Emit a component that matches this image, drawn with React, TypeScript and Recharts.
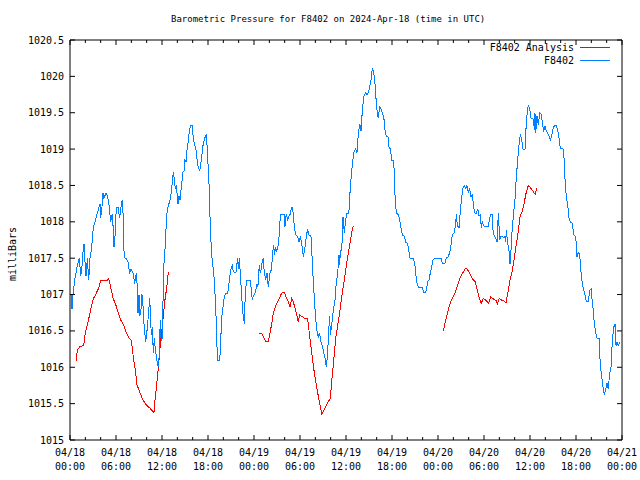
import React from "react";
import { LineChart, Line, XAxis, YAxis } from "recharts";

// hours since 2024-04-18 00:00 UTC, pressure in hPa
const stationSeries: [number, number][] = [
  [0.2, 1017.0], [0.26, 1016.8], [0.39, 1017.0], [0.61, 1017.2], [0.78, 1017.3], [0.95, 1017.4],
  [1.21, 1017.5], [1.4, 1017.25], [1.57, 1017.4], [1.74, 1017.65], [1.83, 1017.7], [1.96, 1017.45],
  [2.09, 1017.25], [2.26, 1017.5], [2.44, 1017.2], [2.61, 1017.5], [2.83, 1017.65], [3.04, 1017.93],
  [3.13, 1017.95], [3.39, 1018.05], [3.65, 1018.15], [3.91, 1018.25], [4.0, 1018.05], [4.17, 1018.2],
  [4.3, 1018.4], [4.43, 1018.32], [4.7, 1018.4], [4.89, 1018.35], [5.09, 1018.23], [5.31, 1018.0],
  [5.48, 1018.1], [5.61, 1017.95], [5.74, 1017.65], [5.87, 1017.8], [6.04, 1018.2], [6.26, 1018.2],
  [6.48, 1018.05], [6.65, 1018.2], [6.82, 1018.3], [6.95, 1018.05], [7.04, 1017.6], [7.17, 1017.5],
  [7.34, 1017.5], [7.57, 1017.45], [7.76, 1017.3], [7.96, 1017.35], [8.22, 1017.3], [8.44, 1017.15],
  [8.54, 1017.25], [8.7, 1017.3], [8.87, 1016.75], [9.0, 1017.0], [9.09, 1016.7], [9.26, 1016.8],
  [9.39, 1017.0], [9.52, 1016.85], [9.65, 1016.6], [9.87, 1016.35], [10.04, 1016.5], [10.17, 1016.65],
  [10.4, 1016.95], [10.5, 1016.7], [10.6, 1016.45], [10.73, 1016.55], [10.87, 1016.2], [11.0, 1016.4],
  [11.13, 1016.25], [11.26, 1016.15], [11.39, 1016.05], [11.57, 1016.0], [11.67, 1016.3], [11.78, 1016.65],
  [11.87, 1016.4], [12.0, 1016.37], [12.13, 1016.9], [12.26, 1017.43], [12.43, 1017.68], [12.61, 1018.1],
  [12.78, 1018.2], [13.04, 1018.3], [13.21, 1018.4], [13.34, 1018.55], [13.47, 1018.68], [13.6, 1018.6],
  [13.73, 1018.45], [13.87, 1018.5], [14.0, 1018.35], [14.09, 1018.25], [14.22, 1018.35], [14.35, 1018.3],
  [14.52, 1018.48], [14.74, 1018.68], [14.87, 1018.7], [14.96, 1018.85], [15.13, 1018.82], [15.22, 1018.95],
  [15.39, 1019.08], [15.52, 1019.2], [15.69, 1019.32], [15.95, 1019.32], [16.04, 1019.2], [16.17, 1019.1],
  [16.4, 1019.0], [16.5, 1018.95], [16.61, 1018.8], [16.92, 1018.7], [17.13, 1018.85], [17.35, 1019.05],
  [17.57, 1019.15], [17.78, 1019.2], [17.91, 1019.0], [18.0, 1018.8], [18.13, 1018.53], [18.22, 1018.2],
  [18.35, 1017.82], [18.48, 1017.54], [18.65, 1017.38], [18.82, 1017.2], [19.0, 1016.85], [19.08, 1016.6],
  [19.17, 1016.28], [19.27, 1016.1], [19.53, 1016.1], [19.6, 1016.24], [19.79, 1016.68], [19.96, 1016.83],
  [20.13, 1016.97], [20.31, 1017.02], [20.57, 1017.02], [20.74, 1017.16], [20.91, 1017.3], [21.07, 1017.38],
  [21.17, 1017.4], [21.3, 1017.32], [21.43, 1017.31], [21.65, 1017.31], [21.87, 1017.5], [21.98, 1017.35],
  [22.08, 1017.5], [22.21, 1017.3], [22.4, 1016.97], [22.5, 1016.8], [22.6, 1016.7], [22.74, 1016.6],
  [22.87, 1017.04], [23.05, 1017.2], [23.48, 1017.2], [23.61, 1017.1], [23.78, 1016.93], [23.91, 1016.98],
  [24.04, 1017.0], [24.22, 1017.05], [24.39, 1017.15], [24.5, 1017.1], [24.69, 1017.4], [24.82, 1017.3],
  [24.95, 1017.35], [25.08, 1017.47], [25.21, 1017.5], [25.34, 1017.3], [25.53, 1017.2], [25.7, 1017.3],
  [25.87, 1017.1], [26.09, 1017.3], [26.31, 1017.35], [26.39, 1017.54], [26.57, 1017.68], [26.67, 1017.55],
  [26.8, 1017.65], [26.96, 1017.6], [27.17, 1017.68], [27.35, 1017.9], [27.43, 1018.1], [27.95, 1018.1],
  [28.04, 1017.93], [28.11, 1018.05], [28.21, 1018.1], [28.4, 1018.03], [28.57, 1018.08], [28.7, 1018.1],
  [28.83, 1018.16], [28.96, 1018.2], [29.13, 1018.12], [29.26, 1017.93], [29.44, 1017.82], [29.7, 1017.8],
  [29.87, 1017.72], [30.04, 1017.8], [30.22, 1017.7], [30.43, 1017.52], [30.59, 1017.6], [30.82, 1017.8],
  [31.0, 1017.9], [31.17, 1017.82], [31.43, 1017.8], [31.6, 1017.47], [31.7, 1017.25], [31.87, 1016.95],
  [32.05, 1016.65], [32.22, 1016.5], [32.39, 1016.4], [32.5, 1016.47], [32.57, 1016.45], [32.74, 1016.35],
  [32.91, 1016.3], [33.09, 1016.2], [33.26, 1016.13], [33.43, 1016.0], [33.61, 1016.2], [33.74, 1016.5],
  [33.87, 1016.7], [33.95, 1016.45], [34.13, 1016.58], [34.34, 1016.78], [34.57, 1016.93], [34.73, 1017.16],
  [34.92, 1017.3], [35.09, 1017.55], [35.18, 1017.4], [35.26, 1017.6], [35.44, 1017.6], [35.61, 1018.07],
  [35.78, 1017.85], [35.96, 1018.03], [36.13, 1018.12], [36.33, 1018.12], [36.48, 1018.23], [36.52, 1018.4],
  [36.65, 1018.58], [36.82, 1018.78], [37.0, 1018.95], [37.27, 1019.0], [37.43, 1018.95], [37.6, 1019.2],
  [37.79, 1019.35], [37.96, 1019.25], [38.13, 1019.53], [38.31, 1019.72], [38.57, 1019.78], [38.74, 1019.75],
  [38.91, 1019.78], [39.09, 1019.85], [39.26, 1019.95], [39.43, 1020.1], [39.61, 1020.06], [39.78, 1019.9],
  [39.91, 1019.7], [40.08, 1019.5], [40.21, 1019.43], [40.4, 1019.58], [40.57, 1019.55], [40.73, 1019.5],
  [40.92, 1019.45], [41.09, 1019.26], [41.26, 1019.18], [41.48, 1019.17], [41.61, 1019.03], [41.8, 1019.0],
  [41.96, 1018.85], [42.2, 1018.85], [42.3, 1018.67], [42.39, 1018.37], [42.56, 1018.12], [42.82, 1018.1],
  [43.0, 1018.03], [43.17, 1017.92], [43.34, 1017.82], [43.6, 1017.8], [43.79, 1017.72], [44.05, 1017.7],
  [44.22, 1017.58], [44.35, 1017.5], [44.78, 1017.5], [45.0, 1017.4], [45.09, 1017.3], [45.22, 1017.18],
  [45.43, 1017.1], [45.95, 1017.1], [46.13, 1017.03], [46.3, 1017.02], [46.47, 1017.05], [46.66, 1017.18],
  [46.83, 1017.2], [47.0, 1017.3], [47.18, 1017.38], [47.35, 1017.47], [47.52, 1017.5], [48.39, 1017.5],
  [48.56, 1017.43], [48.74, 1017.42], [48.91, 1017.43], [49.08, 1017.5], [49.34, 1017.52], [49.53, 1017.58],
  [49.7, 1017.68], [49.87, 1017.82], [50.13, 1017.85], [50.31, 1017.98], [50.39, 1018.1], [50.52, 1017.95],
  [50.74, 1017.92], [50.91, 1018.15], [51.09, 1018.34], [51.26, 1018.46], [51.43, 1018.5], [51.61, 1018.46],
  [51.78, 1018.5], [51.95, 1018.4], [52.13, 1018.46], [52.3, 1018.34], [52.47, 1018.37], [52.66, 1018.2],
  [52.83, 1018.12], [53.0, 1018.12], [53.18, 1018.18], [53.35, 1018.08], [53.52, 1018.1], [53.65, 1017.92],
  [53.78, 1018.0], [53.96, 1017.95], [54.13, 1017.93], [54.56, 1017.93], [54.74, 1018.05], [54.91, 1018.1],
  [55.08, 1018.1], [55.17, 1017.89], [55.34, 1017.8], [55.53, 1017.78], [55.7, 1017.72], [55.87, 1018.12],
  [56.05, 1017.75], [56.22, 1017.8], [56.39, 1017.8], [56.57, 1017.78], [56.74, 1017.8], [56.83, 1017.72],
  [56.91, 1017.88], [57.09, 1017.7], [57.26, 1017.6], [57.39, 1017.42], [57.52, 1017.6], [57.69, 1017.92],
  [57.87, 1018.13], [58.04, 1018.3], [58.21, 1018.6], [58.34, 1018.78], [58.47, 1018.95], [58.61, 1019.1],
  [58.74, 1019.2], [58.92, 1019.12], [59.09, 1019.0], [59.35, 1019.0], [59.52, 1019.37], [59.7, 1019.56],
  [59.78, 1019.6], [59.96, 1019.56], [60.13, 1019.43], [60.3, 1019.42], [60.48, 1019.4], [60.56, 1019.26],
  [60.65, 1019.5], [60.74, 1019.22], [60.91, 1019.45], [61.08, 1019.33], [61.27, 1019.5], [61.43, 1019.48],
  [61.6, 1019.38], [61.79, 1019.24], [61.96, 1019.32], [62.13, 1019.25], [62.31, 1019.22], [62.48, 1019.18],
  [62.65, 1019.12], [62.83, 1019.18], [63.0, 1019.28], [63.17, 1019.32], [63.43, 1019.32], [63.61, 1019.27],
  [63.78, 1019.16], [63.95, 1019.01], [64.3, 1019.01], [64.47, 1018.85], [64.57, 1018.58], [64.74, 1018.34],
  [64.92, 1018.23], [65.09, 1018.05], [65.26, 1018.0], [65.52, 1017.98], [65.7, 1017.82], [65.96, 1017.8],
  [66.13, 1017.52], [66.3, 1017.58], [66.48, 1017.55], [66.65, 1017.31], [66.82, 1017.16], [67.0, 1017.06],
  [67.17, 1017.0], [67.34, 1016.9], [67.6, 1016.9], [67.79, 1017.06], [67.96, 1017.08], [68.05, 1016.97],
  [68.22, 1016.82], [68.39, 1016.6], [68.57, 1016.47], [68.74, 1016.4], [69.0, 1016.4], [69.17, 1016.03],
  [69.35, 1015.87], [69.52, 1015.73], [69.7, 1015.62], [69.87, 1015.7], [70.04, 1015.78], [70.21, 1015.7],
  [70.39, 1015.92], [70.57, 1016.0], [70.74, 1016.37], [70.92, 1016.55], [71.09, 1016.6], [71.22, 1016.3],
  [71.35, 1016.35], [71.52, 1016.3], [71.74, 1016.35],
];

// null entries break the line where the analysis has gaps
const analysisSeries: [number, number | null][] = [
  [0.82, 1016.08], [0.95, 1016.24], [1.26, 1016.28], [1.79, 1016.3], [2.0, 1016.48], [2.35, 1016.62],
  [2.7, 1016.79], [3.0, 1016.93], [3.43, 1017.02], [3.74, 1017.09], [4.0, 1017.19], [4.43, 1017.2],
  [4.87, 1017.2], [5.05, 1017.22], [5.31, 1017.1], [5.61, 1016.95], [5.91, 1016.88], [6.26, 1016.76],
  [6.61, 1016.65], [6.91, 1016.6], [7.34, 1016.48], [7.7, 1016.4], [8.0, 1016.37], [8.26, 1016.14],
  [8.52, 1015.96], [8.74, 1015.76], [9.09, 1015.66], [9.52, 1015.55], [9.96, 1015.48], [10.4, 1015.44],
  [10.83, 1015.39], [10.96, 1015.38], [11.13, 1015.6], [11.31, 1015.76], [11.52, 1016.0], [11.74, 1016.26],
  [11.96, 1016.49], [12.17, 1016.7], [12.39, 1016.93], [12.61, 1017.09], [12.82, 1017.3], [12.96, 1017.31],
  [18.0, null],
  [24.65, 1016.47], [25.0, 1016.47], [25.34, 1016.4], [25.53, 1016.35], [25.87, 1016.35], [26.09, 1016.47],
  [26.31, 1016.6], [26.52, 1016.74], [26.74, 1016.81], [26.96, 1016.88], [27.26, 1016.94], [27.52, 1017.0],
  [27.74, 1017.03], [27.95, 1017.03], [28.17, 1016.97], [28.47, 1016.9], [28.7, 1016.83], [28.92, 1016.95],
  [29.13, 1016.9], [29.35, 1016.81], [29.57, 1016.72], [29.78, 1016.62], [29.96, 1016.72], [30.22, 1016.7],
  [30.65, 1016.67], [31.0, 1016.67], [31.17, 1016.51], [31.43, 1016.28], [31.6, 1016.14], [31.87, 1015.92],
  [32.18, 1015.73], [32.39, 1015.6], [32.65, 1015.46], [32.83, 1015.36], [33.04, 1015.39], [33.35, 1015.46],
  [33.69, 1015.53], [33.95, 1015.57], [34.13, 1015.8], [34.4, 1016.1], [34.66, 1016.4], [34.92, 1016.58],
  [35.18, 1016.76], [35.44, 1016.97], [35.78, 1017.2], [36.09, 1017.43], [36.3, 1017.57], [36.48, 1017.68],
  [36.74, 1017.85], [36.95, 1017.94],
  [42.0, null],
  [48.69, 1016.5], [49.0, 1016.65], [49.34, 1016.79], [49.66, 1016.9], [50.0, 1016.97], [50.35, 1017.06],
  [50.65, 1017.16], [50.96, 1017.25], [51.3, 1017.31], [51.56, 1017.36], [51.82, 1017.35], [52.17, 1017.28],
  [52.53, 1017.21], [52.83, 1017.18], [53.13, 1017.06], [53.39, 1016.95], [53.65, 1016.88], [53.91, 1016.95],
  [54.26, 1016.92], [54.61, 1016.88], [54.87, 1016.97], [55.21, 1016.94], [55.57, 1016.92], [55.74, 1016.87],
  [56.0, 1016.95], [56.31, 1016.92], [56.61, 1016.91], [56.87, 1016.88], [57.13, 1017.04], [57.39, 1017.2],
  [57.65, 1017.31], [57.91, 1017.47], [58.17, 1017.66], [58.43, 1017.84], [58.7, 1018.07], [58.96, 1018.14],
  [59.22, 1018.25], [59.48, 1018.39], [59.78, 1018.5], [60.0, 1018.48], [60.26, 1018.44], [60.52, 1018.4],
  [60.69, 1018.38], [60.87, 1018.46],
];

const hourTicks = Array.from({ length: 37 }, (_, i) => i * 2);
const pressureTicks = [1015, 1015.5, 1016, 1016.5, 1017, 1017.5, 1018, 1018.5, 1019, 1019.5, 1020, 1020.5];
const startUtc = Date.UTC(2024, 3, 18);

const series = [
  { name: "F8402 Analysis", color: "#ff0000" },
  { name: "F8402", color: "#0080ff" },
];

const stationData = stationSeries.map(([t, p]) => ({ t, p }));
const analysisData = analysisSeries.map(([t, p]) => ({ t, p }));

const pad = (n: number) => String(n).padStart(2, "0");
const dateLabel = (h: number) => {
  const d = new Date(startUtc + h * 3600000);
  return [`${pad(d.getUTCMonth() + 1)}/${pad(d.getUTCDate())}`, `${pad(d.getUTCHours())}:${pad(d.getUTCMinutes())}`];
};

const FONT = "'DejaVu Sans Mono', monospace";

const BottomTick = ({ x, y, payload }: any) => {
  const major = payload.value % 6 === 0;
  const [day, time] = dateLabel(payload.value);
  return (
    <g>
      <line x1={x} x2={x} y1={y} y2={y - (major ? 5 : 3)} stroke="#000" />
      {major && (
        <text x={x} y={y} textAnchor="middle" fontSize={10} fontFamily={FONT} fill="#000">
          <tspan x={x} dy={16}>{day}</tspan>
          <tspan x={x} dy={14}>{time}</tspan>
        </text>
      )}
    </g>
  );
};

const TopTick = ({ x, y, payload }: any) => {
  const major = payload.value % 6 === 0;
  return <line x1={x} x2={x} y1={y} y2={y + (major ? 5 : 3)} stroke="#000" />;
};

const LeftTick = ({ x, y, payload }: any) => (
  <g>
    <line x1={x} x2={x + 5} y1={y} y2={y} stroke="#000" />
    <text x={x - 6} y={y} dy={3.5} textAnchor="end" fontSize={10} fontFamily={FONT} fill="#000">
      {payload.value}
    </text>
  </g>
);

const RightTick = ({ x, y }: any) => <line x1={x} x2={x - 5} y1={y} y2={y} stroke="#000" />;

export default function App() {
  return (
    <div style={{ position: "absolute", left: 0, top: 0, width: 640, height: 480, background: "#fff", fontFamily: FONT }}>
      <div style={{ position: "absolute", top: 14, left: 171, whiteSpace: "nowrap", fontSize: 9, color: "#000" }}>
        Barometric Pressure for F8402 on 2024-Apr-18 (time in UTC)
      </div>
      <div
        style={{
          position: "absolute",
          left: 12,
          top: 254,
          transform: "translate(-50%, -50%) rotate(-90deg)",
          fontSize: 10,
          color: "#000",
          whiteSpace: "nowrap",
        }}
      >
        milliBars
      </div>
      <div style={{ position: "absolute", top: 41, left: 430, width: 180, fontSize: 10, lineHeight: "13px", color: "#000", zIndex: 2 }}>
        {series.map((s) => (
          <div key={s.name} style={{ display: "flex", justifyContent: "flex-end", alignItems: "center" }}>
            <span>{s.name}</span>
            <span style={{ display: "inline-block", width: 30, borderTop: `1px solid ${s.color}`, marginLeft: 6 }} />
          </div>
        ))}
      </div>
      <LineChart width={640} height={480} margin={{ top: 39, right: 17, bottom: 0, left: 0 }}>
        <XAxis
          xAxisId="bottom"
          dataKey="t"
          type="number"
          domain={[0, 72]}
          ticks={hourTicks}
          interval={0}
          height={40}
          tickSize={0}
          tickMargin={0}
          tickLine={false}
          axisLine={{ stroke: "#000" }}
          tick={<BottomTick />}
          allowDataOverflow
        />
        <XAxis
          xAxisId="top"
          orientation="top"
          dataKey="t"
          type="number"
          domain={[0, 72]}
          ticks={hourTicks}
          interval={0}
          height={1}
          tickSize={0}
          tickMargin={0}
          tickLine={false}
          axisLine={{ stroke: "#000" }}
          tick={<TopTick />}
          allowDataOverflow
        />
        <YAxis
          yAxisId="left"
          type="number"
          domain={[1015, 1020.5]}
          ticks={pressureTicks}
          interval={0}
          width={70}
          tickSize={0}
          tickMargin={0}
          tickLine={false}
          axisLine={{ stroke: "#000" }}
          tick={<LeftTick />}
          allowDataOverflow
        />
        <YAxis
          yAxisId="right"
          orientation="right"
          type="number"
          domain={[1015, 1020.5]}
          ticks={pressureTicks}
          interval={0}
          width={1}
          tickSize={0}
          tickMargin={0}
          tickLine={false}
          axisLine={{ stroke: "#000" }}
          tick={<RightTick />}
          allowDataOverflow
        />
        {/* invisible copy so the mirrored top/right axes have a series bound to them */}
        <Line
          data={stationData}
          xAxisId="top"
          yAxisId="right"
          dataKey="p"
          stroke="none"
          dot={false}
          legendType="none"
          isAnimationActive={false}
        />
        <Line
          name="F8402 Analysis"
          data={analysisData}
          xAxisId="bottom"
          yAxisId="left"
          dataKey="p"
          type="linear"
          stroke="#ff0000"
          strokeWidth={1}
          shapeRendering="crispEdges"
          dot={false}
          isAnimationActive={false}
        />
        <Line
          name="F8402"
          data={stationData}
          xAxisId="bottom"
          yAxisId="left"
          dataKey="p"
          type="linear"
          stroke="#0080ff"
          strokeWidth={1}
          shapeRendering="crispEdges"
          dot={false}
          isAnimationActive={false}
        />
      </LineChart>
    </div>
  );
}
